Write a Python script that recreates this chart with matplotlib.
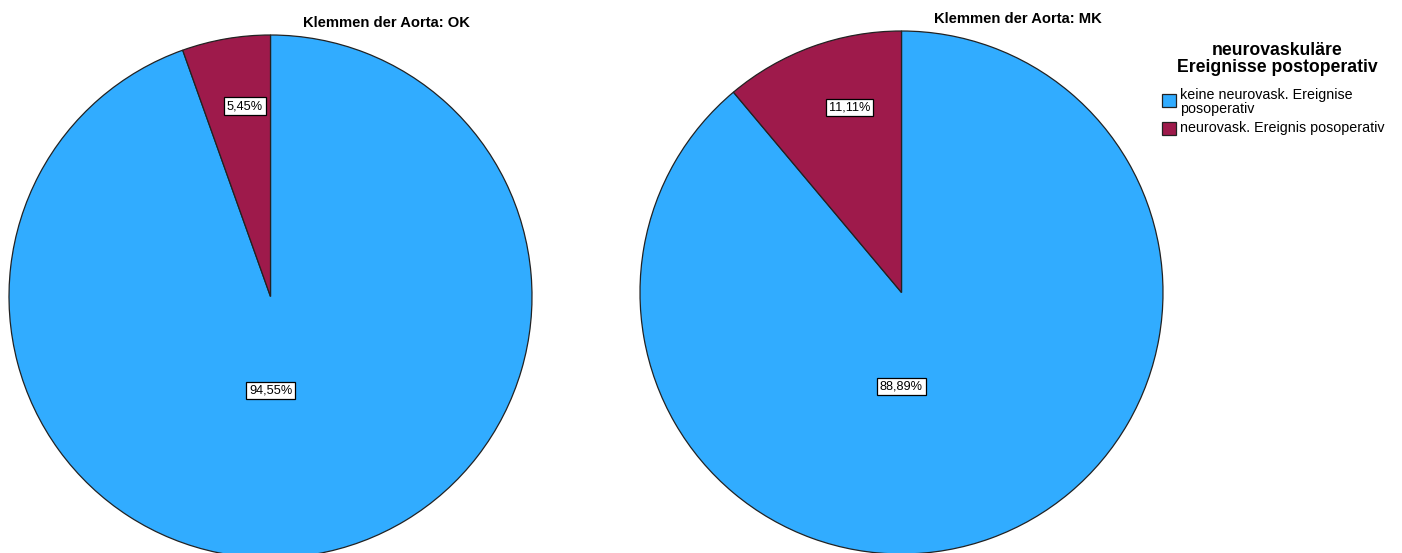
import matplotlib
matplotlib.use("Agg")
import matplotlib.pyplot as plt
from matplotlib.patches import Rectangle
import numpy as np

# Data
groups = ["Klemmen der Aorta: OK", "Klemmen der Aorta: MK"]
categories = ["keine neurovask. Ereignise\nposoperativ", "neurovask. Ereignis posoperativ"]
legend_title = "neurovaskuläre\nEreignisse postoperativ"
shares_ok = [94.55, 5.45]
shares_mk = [88.89, 11.11]
colors = ["#31ACFF", "#9E1A4B"]

W, H = 1402, 553
fig = plt.figure(figsize=(W / 100, H / 100), dpi=100)
ax = fig.add_axes([0, 0, 1, 1])

FONT = "Liberation Sans"

def fmt(v):
    return f"{v:.2f}".replace(".", ",") + "%"

def draw_pie(values, center, radius, title):
    wedges, _ = ax.pie(values, colors=colors, startangle=90, counterclock=False,
                       center=center, radius=radius,
                       wedgeprops=dict(edgecolor="#222222", linewidth=0.9))
    cx, cy = center
    for i, (w, v) in enumerate(zip(wedges, values)):
        if i == 0:
            # large slice: label placed straight under the centre
            x = cx
            y = cy - 0.36 * radius
        else:
            mid = (w.theta1 + w.theta2) / 2
            off = ((mid - 90 + 180) % 360) - 180   # offset from 12 o'clock
            ang = np.deg2rad(90 + 0.78 * off)
            x = cx + 0.735 * radius * np.cos(ang)
            y = cy + 0.735 * radius * np.sin(ang)
        ax.text(x, y, fmt(v), ha="center", va="center", fontsize=9.2, family=FONT,
                color="black",
                bbox=dict(boxstyle="square,pad=0.22", facecolor="white",
                          edgecolor="black", linewidth=0.9))
    ax.text(cx + 116, cy + radius + 12, title, ha="center", va="center",
            fontsize=10.6, fontweight="bold", family=FONT)

draw_pie(shares_ok, (270.5, H - 296.5), 261.5, groups[0])
draw_pie(shares_mk, (901.5, H - 292.5), 261.5, groups[1])

# Legend
ax.text(1277.5, H - 59, legend_title, ha="center", va="center", fontsize=12.7,
        fontweight="bold", family=FONT, linespacing=1.05)
item_y = [H - 100, H - 128]
text_y = [H - 102, H - 128]
for c, label, py, ty in zip(colors, categories, item_y, text_y):
    ax.add_patch(Rectangle((1162, py - 6.5), 14, 13, facecolor=c,
                           edgecolor="#222222", linewidth=0.9))
    ax.text(1180, ty, label, ha="left", va="center", fontsize=10.3, family=FONT,
            linespacing=0.92)

ax.set_xlim(0, W)
ax.set_ylim(0, H)
ax.set_aspect("auto")
ax.axis("off")

fig.savefig("out.png", dpi=100, facecolor="white")
